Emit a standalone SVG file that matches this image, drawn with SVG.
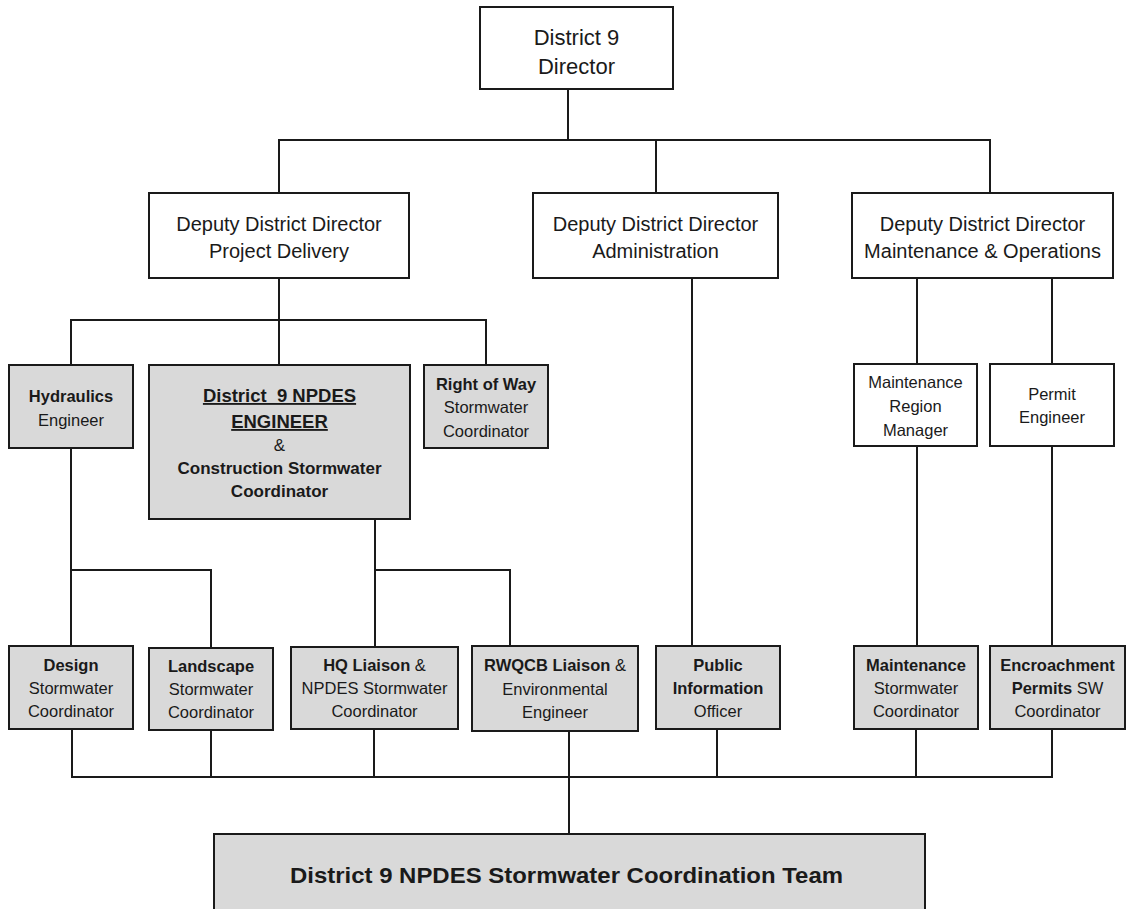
<svg xmlns="http://www.w3.org/2000/svg" width="1128" height="909" viewBox="0 0 1128 909">
<style>
  .box { stroke: #1a1a1a; stroke-width: 2; fill: #ffffff; }
  .gray { fill: #d9d9d9; }
  .t { font-family: "Liberation Sans", Arial, sans-serif; fill: #1a1a1a; text-anchor: middle; }
  .s16 { font-size: 16.5px; }
  .s20 { font-size: 20px; }
  .s22 { font-size: 22px; }
  .b { font-weight: bold; }
  .n { font-weight: normal; }
  .conn line { stroke: #1a1a1a; stroke-width: 2; }
</style>
<rect width="1128" height="909" fill="#ffffff"/>
<g id="connectors" class="conn">
  <line x1="568" y1="89" x2="568" y2="140"/>
  <line x1="278" y1="140" x2="991" y2="140"/>
  <line x1="279" y1="140" x2="279" y2="193"/>
  <line x1="656" y1="140" x2="656" y2="193"/>
  <line x1="990" y1="140" x2="990" y2="193"/>
  <line x1="279" y1="278" x2="279" y2="365"/>
  <line x1="70" y1="320" x2="487" y2="320"/>
  <line x1="71" y1="320" x2="71" y2="365"/>
  <line x1="486" y1="320" x2="486" y2="365"/>
  <line x1="71" y1="448" x2="71" y2="646"/>
  <line x1="71" y1="570" x2="212" y2="570"/>
  <line x1="211" y1="570" x2="211" y2="648"/>
  <line x1="375" y1="519" x2="375" y2="647"/>
  <line x1="375" y1="570" x2="511" y2="570"/>
  <line x1="510" y1="570" x2="510" y2="646"/>
  <line x1="692" y1="278" x2="692" y2="646"/>
  <line x1="917" y1="278" x2="917" y2="364"/>
  <line x1="917" y1="446" x2="917" y2="646"/>
  <line x1="1052" y1="278" x2="1052" y2="364"/>
  <line x1="1052" y1="446" x2="1052" y2="646"/>
  <line x1="72" y1="729" x2="72" y2="777"/>
  <line x1="211" y1="730" x2="211" y2="777"/>
  <line x1="374" y1="729" x2="374" y2="777"/>
  <line x1="569" y1="731" x2="569" y2="777"/>
  <line x1="717" y1="729" x2="717" y2="777"/>
  <line x1="916" y1="729" x2="916" y2="777"/>
  <line x1="1052" y1="729" x2="1052" y2="777"/>
  <line x1="71" y1="777" x2="1053" y2="777"/>
  <line x1="569" y1="777" x2="569" y2="834"/>
</g>
<g id="director">
  <rect class="box" x="480" y="7" width="193" height="82"/>
  <text class="t s22" x="576.5" y="45">District 9</text>
  <text class="t s22" x="576.5" y="74">Director</text>
</g>
<g id="dd-project-delivery">
  <rect class="box" x="149" y="193" width="260" height="85"/>
  <text class="t s20" x="279" y="231">Deputy District Director</text>
  <text class="t s20" x="279" y="258">Project Delivery</text>
</g>
<g id="dd-administration">
  <rect class="box" x="533" y="193" width="245" height="85"/>
  <text class="t s20" x="655.5" y="231">Deputy District Director</text>
  <text class="t s20" x="655.5" y="258">Administration</text>
</g>
<g id="dd-maintenance">
  <rect class="box" x="852" y="193" width="261" height="85"/>
  <text class="t s20" x="982.5" y="231">Deputy District Director</text>
  <text class="t s20" x="982.5" y="258">Maintenance &amp; Operations</text>
</g>
<g id="hydraulics">
  <rect class="box gray" x="9" y="365" width="124" height="83"/>
  <text class="t s16 b" x="71" y="402">Hydraulics</text>
  <text class="t s16" x="71" y="426">Engineer</text>
</g>
<g id="npdes-engineer">
  <rect class="box gray" x="149" y="365" width="261" height="154"/>
  <text class="t b" style="font-size:18.5px" x="279.5" y="402" text-decoration="underline" xml:space="preserve">District  9 NPDES</text>
  <text class="t b" style="font-size:18.5px" x="279.5" y="428" text-decoration="underline">ENGINEER</text>
  <text class="t" style="font-size:17px" x="279.5" y="451">&amp;</text>
  <text class="t b" style="font-size:17px" x="279.5" y="474">Construction Stormwater</text>
  <text class="t b" style="font-size:17px" x="279.5" y="497">Coordinator</text>
</g>
<g id="right-of-way">
  <rect class="box gray" x="424" y="365" width="124" height="83"/>
  <text class="t s16 b" x="486" y="390">Right of Way</text>
  <text class="t s16" x="486" y="413">Stormwater</text>
  <text class="t s16" x="486" y="437">Coordinator</text>
</g>
<g id="maintenance-region-manager">
  <rect class="box" x="854" y="364" width="123" height="82"/>
  <text class="t s16" x="915.5" y="388">Maintenance</text>
  <text class="t s16" x="915.5" y="412">Region</text>
  <text class="t s16" x="915.5" y="436">Manager</text>
</g>
<g id="permit-engineer">
  <rect class="box" x="990" y="364" width="124" height="82"/>
  <text class="t s16" x="1052" y="400">Permit</text>
  <text class="t s16" x="1052" y="423">Engineer</text>
</g>
<g id="design">
  <rect class="box gray" x="9" y="646" width="124" height="83"/>
  <text class="t s16 b" x="71" y="671">Design</text>
  <text class="t s16" x="71" y="694">Stormwater</text>
  <text class="t s16" x="71" y="717">Coordinator</text>
</g>
<g id="landscape">
  <rect class="box gray" x="149" y="648" width="124" height="82"/>
  <text class="t s16 b" x="211" y="672">Landscape</text>
  <text class="t s16" x="211" y="695">Stormwater</text>
  <text class="t s16" x="211" y="718">Coordinator</text>
</g>
<g id="hq-liaison">
  <rect class="box gray" x="291" y="647" width="167" height="82"/>
  <text class="t s16" x="374.5" y="671"><tspan class="b">HQ Liaison</tspan> &amp;</text>
  <text class="t s16" x="374.5" y="694">NPDES Stormwater</text>
  <text class="t s16" x="374.5" y="717">Coordinator</text>
</g>
<g id="rwqcb-liaison">
  <rect class="box gray" x="472" y="646" width="166" height="85"/>
  <text class="t s16" x="555" y="671"><tspan class="b">RWQCB Liaison</tspan> &amp;</text>
  <text class="t s16" x="555" y="695">Environmental</text>
  <text class="t s16" x="555" y="718">Engineer</text>
</g>
<g id="public-information">
  <rect class="box gray" x="656" y="646" width="124" height="83"/>
  <text class="t s16 b" x="718" y="671">Public</text>
  <text class="t s16 b" x="718" y="694">Information</text>
  <text class="t s16" x="718" y="717">Officer</text>
</g>
<g id="maintenance-sw">
  <rect class="box gray" x="854" y="646" width="124" height="83"/>
  <text class="t s16 b" x="916" y="671">Maintenance</text>
  <text class="t s16" x="916" y="694">Stormwater</text>
  <text class="t s16" x="916" y="717">Coordinator</text>
</g>
<g id="encroachment-permits">
  <rect class="box gray" x="990" y="646" width="135" height="83"/>
  <text class="t s16 b" x="1057.5" y="671">Encroachment</text>
  <text class="t s16" x="1057.5" y="694"><tspan class="b">Permits</tspan> SW</text>
  <text class="t s16" x="1057.5" y="717">Coordinator</text>
</g>
<g id="coordination-team">
  <rect class="box gray" x="214" y="834" width="711" height="85"/>
  <text class="t b" style="font-size:22px" x="566.5" y="883" textLength="553" lengthAdjust="spacingAndGlyphs">District 9 NPDES Stormwater Coordination Team</text>
</g>
</svg>
